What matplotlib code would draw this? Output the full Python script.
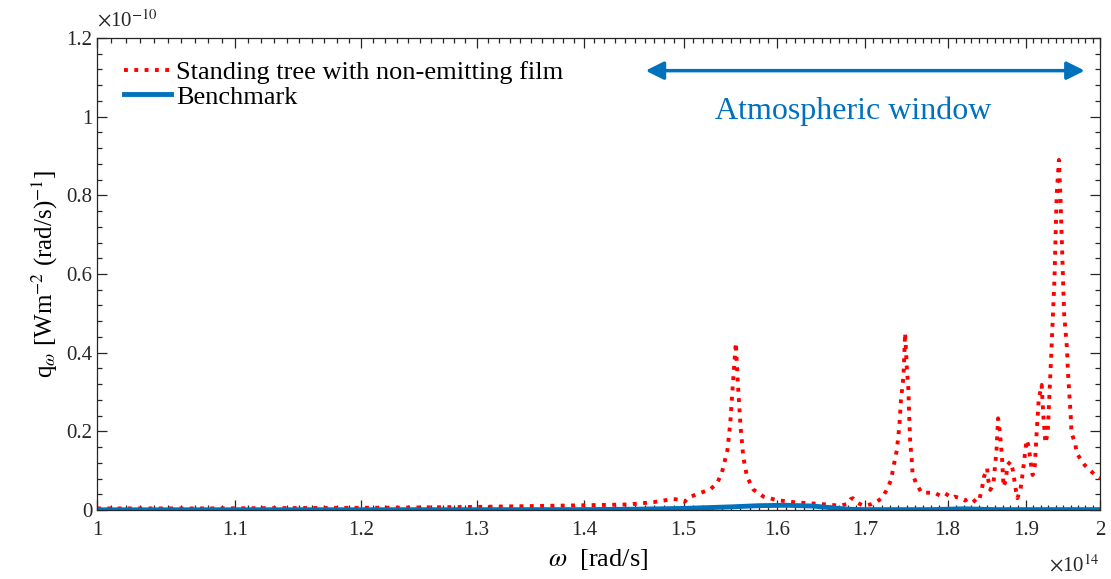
import matplotlib
matplotlib.use('Agg')
import matplotlib.pyplot as plt
import numpy as np

# frequency in units of 1e14 rad/s, q in units of 1e-10
omega_tree = [1.000, 1.074, 1.151, 1.233, 1.303, 1.399, 1.443, 1.469, 1.489, 1.496,
              1.501, 1.505, 1.517, 1.528, 1.535, 1.540, 1.546, 1.549, 1.552, 1.555,
              1.557, 1.560, 1.563, 1.567, 1.574, 1.585, 1.600, 1.618, 1.637, 1.656,
              1.671, 1.679, 1.683, 1.686, 1.691, 1.697, 1.702, 1.708, 1.714, 1.720,
              1.726, 1.731, 1.734, 1.738, 1.741, 1.743, 1.746, 1.748, 1.750, 1.752,
              1.753, 1.754, 1.756, 1.757, 1.761, 1.768, 1.775, 1.784, 1.791, 1.797,
              1.806, 1.809, 1.816, 1.822, 1.826, 1.832, 1.836, 1.840, 1.843, 1.846,
              1.850, 1.851, 1.854, 1.858, 1.862, 1.864, 1.866, 1.869, 1.871, 1.874,
              1.876, 1.880, 1.883, 1.887, 1.889, 1.893, 1.896, 1.901, 1.904, 1.906,
              1.909, 1.912, 1.914, 1.917, 1.921, 1.923, 1.926, 1.929, 1.932, 1.934,
              1.938, 1.941, 1.944, 1.946, 1.949, 1.951, 1.955, 1.956, 1.958, 1.960,
              1.961, 1.966, 1.968, 1.974, 1.979, 1.986, 1.993, 2.000]
q_tree = [0.004, 0.004, 0.005, 0.006, 0.008, 0.012, 0.014, 0.020, 0.028, 0.026,
          0.021, 0.032, 0.043, 0.053, 0.068, 0.094, 0.152, 0.220, 0.325, 0.425,
          0.330, 0.215, 0.135, 0.085, 0.052, 0.034, 0.025, 0.020, 0.017, 0.014,
          0.011, 0.015, 0.027, 0.030, 0.019, 0.012, 0.012, 0.015, 0.021, 0.030,
          0.051, 0.076, 0.110, 0.152, 0.212, 0.280, 0.339, 0.450, 0.364, 0.305,
          0.237, 0.178, 0.127, 0.094, 0.069, 0.044, 0.044, 0.044, 0.036, 0.042,
          0.031, 0.034, 0.030, 0.024, 0.030, 0.027, 0.019, 0.027, 0.051, 0.085,
          0.106, 0.080, 0.051, 0.068, 0.153, 0.233, 0.203, 0.136, 0.059, 0.076,
          0.114, 0.123, 0.102, 0.051, 0.030, 0.051, 0.094, 0.178, 0.161, 0.127,
          0.089, 0.114, 0.186, 0.280, 0.318, 0.246, 0.170, 0.195, 0.322, 0.407,
          0.585, 0.800, 0.890, 0.800, 0.620, 0.500, 0.407, 0.356, 0.297, 0.237,
          0.195, 0.170, 0.145, 0.127, 0.114, 0.102, 0.089, 0.081]

omega_bench = [1.00, 1.30, 1.40, 1.45, 1.50, 1.55, 1.58, 1.61, 1.64, 1.66,
               1.68, 1.70, 1.78, 1.80, 1.82, 1.84, 1.86, 2.00]
q_bench = [0.0005, 0.0008, 0.001, 0.002, 0.004, 0.008, 0.011, 0.012, 0.010, 0.006,
           0.002, 0.001, 0.001, 0.002, 0.003, 0.002, 0.001, 0.001]

xticks = [1, 1.1, 1.2, 1.3, 1.4, 1.5, 1.6, 1.7, 1.8, 1.9, 2]
xticklabels = ['1', '1.1', '1.2', '1.3', '1.4', '1.5', '1.6', '1.7', '1.8', '1.9', '2']
yticks = [0, 0.2, 0.4, 0.6, 0.8, 1.0, 1.2]
yticklabels = ['0', '0.2', '0.4', '0.6', '0.8', '1', '1.2']

legend_labels = ['Standing tree with non-emitting film', 'Benchmark']
window_start, window_end = 1.461, 1.979

plt.rcParams['font.family'] = 'Liberation Serif'
plt.rcParams['mathtext.fontset'] = 'stix'

fig = plt.figure(figsize=(11.11, 5.79), dpi=100)
ax = fig.add_axes([97/1111, 69/579, 1003/1111, 472/579])

ax.plot(omega_tree, q_tree, ':', color='#ff0000', lw=2.8, label=legend_labels[0])
ax.plot(omega_bench, q_bench, '-', color='#0072BD', lw=3.5, label=legend_labels[1])

ax.set_xscale('log')
ax.set_xlim(1, 2)
ax.set_ylim(0, 1.2)
ax.set_xticks(xticks)
ax.set_xticklabels(xticklabels)
minor = [v for v in np.round(np.arange(1.01, 2.0, 0.01), 2) if round(v * 10, 6) != round(v * 10)]
ax.set_xticks(minor, minor=True)
ax.set_yticks(yticks)
ax.set_yticklabels(yticklabels)
ax.set_yticks(np.round(np.arange(0, 1.2001, 0.04), 2), minor=True)

ax.tick_params(which='both', direction='in', top=True, right=True, colors='#262626',
               labelsize=15, width=0.9)
ax.tick_params(which='major', length=7)
ax.tick_params(which='minor', length=3.5, labelbottom=False)
ax.tick_params(axis='x', pad=8)
for s in ax.spines.values():
    s.set_linewidth(0.9)
    s.set_color('#262626')

ax.set_xlabel(r'$\omega$  [rad/s]', fontsize=19, labelpad=5)
ax.set_ylabel(r'q$_\omega$ [Wm$^{-2}$ (rad/s)$^{-1}$]', fontsize=18, labelpad=4)

ax.text(0.0, 1.014, r'$\times$10$^{-10}$', transform=ax.transAxes, fontsize=15,
        ha='left', va='bottom', color='#262626')
ax.text(1.0, -0.095, r'$\times$10$^{14}$', transform=ax.transAxes, fontsize=15,
        ha='right', va='top', color='#262626')

ax.annotate('', xy=(window_end, 1.117), xytext=(window_start, 1.117),
            arrowprops=dict(arrowstyle='<|-|>', color='#0072BD', lw=2.5,
                            mutation_scale=27, shrinkA=0, shrinkB=0))
ax.text(1.686, 1.015, 'Atmospheric window', color='#0072BD', fontsize=23,
        ha='center', va='center')

ax.legend(loc='upper left', frameon=False, fontsize=19, handlelength=1.8,
          handletextpad=0.2, labelspacing=0.05, borderaxespad=0.0,
          bbox_to_anchor=(0.016, 0.975))

fig.savefig('out.png', dpi=100)
